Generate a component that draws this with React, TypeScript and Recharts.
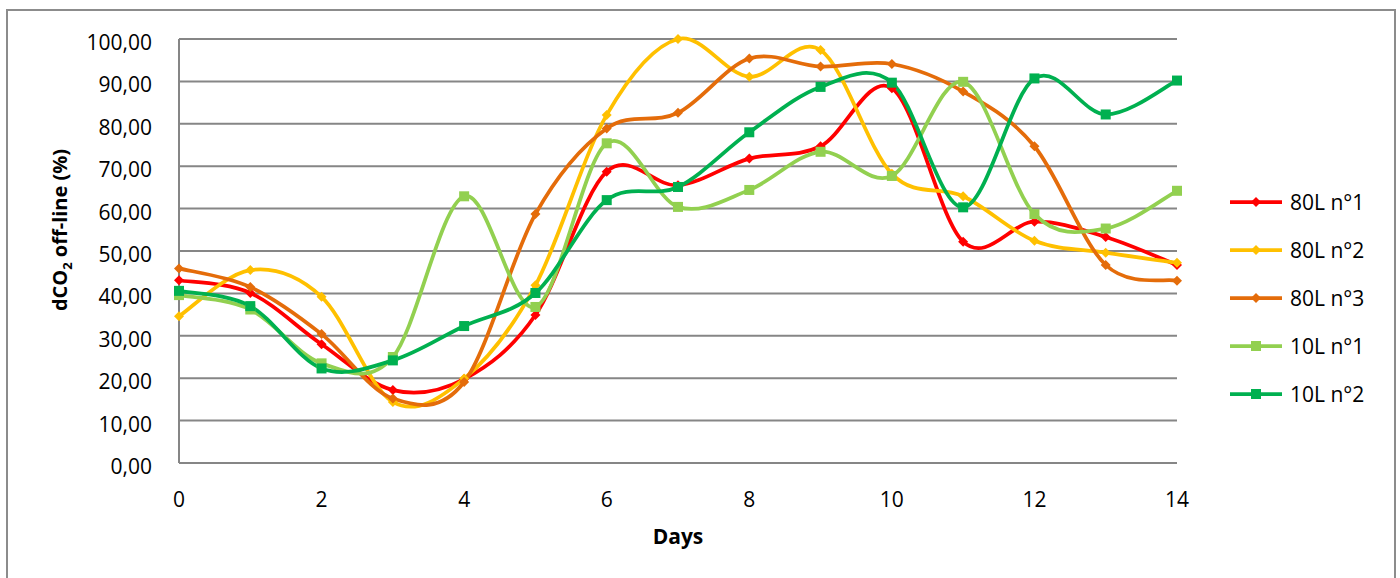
import { LineChart, Line, XAxis, YAxis, CartesianGrid } from "recharts";

const days = [0, 1, 2, 3, 4, 5, 6, 7, 8, 9, 10, 11, 12, 13, 14];
const xTicks = [0, 2, 4, 6, 8, 10, 12, 14];
const yTicks = [0, 10, 20, 30, 40, 50, 60, 70, 80, 90, 100];

const r80L1 = [43.1, 40.1, 28.0, 17.2, 19.8, 34.9, 68.7, 65.5, 71.8, 74.7, 88.4, 52.2, 56.9, 53.3, 46.7];
const r80L2 = [34.6, 45.5, 39.2, 14.4, 19.9, 41.9, 82.1, 100.0, 91.1, 97.4, 68.2, 62.9, 52.4, 49.6, 47.2];
const r80L3 = [45.9, 41.5, 30.4, 15.2, 19.1, 58.7, 78.9, 82.6, 95.4, 93.5, 94.1, 87.6, 74.7, 46.7, 43.0];
const r10L1 = [39.6, 36.2, 23.5, 25.0, 62.9, 36.8, 75.4, 60.4, 64.4, 73.4, 67.7, 89.9, 58.7, 55.3, 64.2];
const r10L2 = [40.6, 37.0, 22.3, 24.2, 32.3, 40.1, 62.0, 65.1, 78.0, 88.7, 89.7, 60.3, 90.7, 82.2, 90.2];

const seriesNames = ["80L n°1", "80L n°2", "80L n°3", "10L n°1", "10L n°2"];
const seriesColors = ["#ff0000", "#ffc000", "#e46c0a", "#92d050", "#00b050"];
const seriesShapes = ["diamond", "diamond", "diamond", "square", "square"];
const seriesValues = [r80L1, r80L2, r80L3, r10L1, r10L2];

const data = days.map((day, i) => {
  const row: Record<string, number> = { day };
  seriesValues.forEach((vals, s) => {
    row["s" + s] = vals[i];
  });
  return row;
});

const FONT = '"Open Sans", "Liberation Sans", sans-serif';
const GRID = "#868686";
const FRAME = "#8c8c8c";

// Excel-style smoothed line (catmull-rom bezier)
function excelSmooth(context: any) {
  let pts: number[][] = [];
  return {
    areaStart() {},
    areaEnd() {},
    lineStart() {
      pts = [];
    },
    lineEnd() {
      if (!pts.length) return;
      context.moveTo(pts[0][0], pts[0][1]);
      for (let i = 0; i < pts.length - 1; i++) {
        const p0 = pts[i - 1] || pts[i];
        const p1 = pts[i];
        const p2 = pts[i + 1];
        const p3 = pts[i + 2] || p2;
        context.bezierCurveTo(
          p1[0] + (p2[0] - p0[0]) / 6,
          p1[1] + (p2[1] - p0[1]) / 6,
          p2[0] - (p3[0] - p1[0]) / 6,
          p2[1] - (p3[1] - p1[1]) / 6,
          p2[0],
          p2[1]
        );
      }
    },
    point(x: number, y: number) {
      pts.push([+x, +y]);
    },
  };
}

function Marker({ cx, cy, shape, color }: any) {
  if (cx == null || cy == null) return null;
  if (shape === "square") {
    return <rect x={cx - 5} y={cy - 5} width={10} height={10} fill={color} />;
  }
  return (
    <polygon
      points={`${cx},${cy - 5} ${cx + 5},${cy} ${cx},${cy + 5} ${cx - 5},${cy}`}
      fill={color}
    />
  );
}

const YTick = (props: any) => {
  const { x, y, payload } = props;
  return (
    <text x={x - 27} y={y + 11} textAnchor="end" fontFamily={FONT} fontSize={21} fill="#000">
      {payload.value.toFixed(2).replace(".", ",")}
    </text>
  );
};

const XTick = (props: any) => {
  const { x, y, payload } = props;
  return (
    <text x={x} y={y + 44} textAnchor="middle" fontFamily={FONT} fontSize={21} fill="#000">
      {payload.value}
    </text>
  );
};

const YTitle = () => (
  <text
    x={67}
    y={230}
    transform="rotate(-90 67 230)"
    textAnchor="middle"
    fontFamily={FONT}
    fontSize={20}
    fontWeight="bold"
    fill="#000"
  >
    dCO<tspan fontSize={13} dy={5}>2</tspan>
    <tspan dy={-5}> off-line (%)</tspan>
  </text>
);

const XTitle = () => (
  <text x={678} y={544} textAnchor="middle" fontFamily={FONT} fontSize={21} fontWeight="bold" fill="#000">
    Days
  </text>
);

export default function App() {
  return (
    <div style={{ position: "relative", width: 1400, height: 578, overflow: "hidden", background: "#fff" }}>
      <style>{"html, body { margin: 0; padding: 0; overflow: hidden; }"}</style>
      {/* outer chart frame */}
      <div style={{ position: "absolute", left: 6, top: 9, width: 1390, height: 2, background: FRAME }} />
      <div style={{ position: "absolute", left: 6, top: 9, width: 2, height: 580, background: FRAME }} />
      <div style={{ position: "absolute", left: 1394, top: 9, width: 2, height: 580, background: FRAME }} />
      <div style={{ position: "absolute", left: 0, top: 0 }}>
        <LineChart width={1400} height={578} data={data} margin={{ top: 39, right: 223, bottom: 55, left: 79 }}>
          <CartesianGrid vertical={false} stroke={GRID} strokeWidth={2} />
          <XAxis
            dataKey="day"
            type="number"
            domain={[0, 14]}
            ticks={xTicks}
            axisLine={false}
            tickLine={false}
            tickSize={0}
            tickMargin={0}
            height={60}
            tick={<XTick />}
            label={<XTitle />}
          />
          <YAxis
            domain={[0, 100]}
            ticks={yTicks}
            axisLine={{ stroke: GRID, strokeWidth: 2 }}
            tickLine={false}
            tickSize={0}
            tickMargin={0}
            width={100}
            tick={<YTick />}
            label={<YTitle />}
          />
          {seriesNames.map((name, s) => (
            <Line
              key={name}
              dataKey={"s" + s}
              name={name}
              type={excelSmooth as any}
              stroke={seriesColors[s]}
              strokeWidth={3.75}
              isAnimationActive={false}
              activeDot={false}
              dot={(p: any) => (
                <Marker key={name + "-" + p.index} cx={p.cx} cy={p.cy} shape={seriesShapes[s]} color={seriesColors[s]} />
              )}
            />
          ))}
        </LineChart>
      </div>
      <div style={{ position: "absolute", left: 1228, top: 178 }}>
        {seriesNames.map((name, s) => (
          <div key={name} style={{ display: "flex", alignItems: "center", height: 48 }}>
            <svg width={56} height={20}>
              <line x1={2} y1={10} x2={54} y2={10} stroke={seriesColors[s]} strokeWidth={3.75} />
              <Marker cx={28} cy={10} shape={seriesShapes[s]} color={seriesColors[s]} />
            </svg>
            <span style={{ marginLeft: 6, fontFamily: FONT, fontSize: 21, color: "#000" }}>{name}</span>
          </div>
        ))}
      </div>
    </div>
  );
}
